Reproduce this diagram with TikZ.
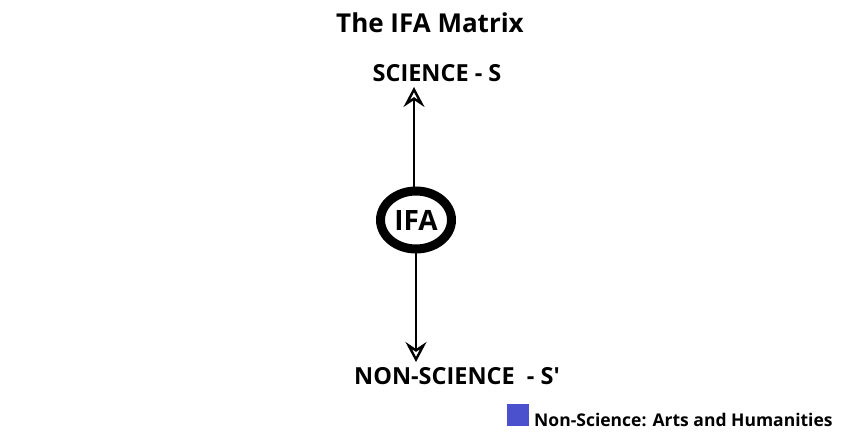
\documentclass[tikz,border=0pt]{standalone}
\usepackage{fontspec}
\setmainfont{Open Sans}
\usetikzlibrary{positioning, arrows.meta, shapes.geometric}

\definecolor{legendblue}{HTML}{4B50CC}

\tikzset{
    label text/.style={font=\bfseries\fontsize{23.5}{27}\selectfont, inner sep=0pt},
    axis arrow/.style={line width=2.6pt, -{Stealth[open, length=20pt, width=21pt, inset=7pt, line width=2.4pt]}},
}

\begin{document}
\begin{tikzpicture}[x=1pt, y=-1pt]
            \useasboundingbox (0,0) rectangle (862,439);

            % title
            \node[font=\bfseries\fontsize{26}{30}\selectfont, inner sep=0pt, anchor=base] (title) at (430,32) {The IFA Matrix};

            % the two poles
            \node[label text, anchor=base] (science) at (437,81) {SCIENCE - S};
            \node[label text, anchor=base west] (nonscience) at (354,384) {NON-SCIENCE\ \ - S\textquotesingle};

            \coordinate (uptip) at (414,87);
            \coordinate (downtip) at (416,362);

            % arrows out of the ellipse
            \draw[axis arrow] (414,222) -- (uptip);
            \draw[axis arrow] (416,222) -- (downtip);

            % IFA
            \node[ellipse, draw, line width=9pt, fill=white, inner sep=0pt,
                minimum width=71pt, minimum height=58pt,
                font=\bfseries\fontsize{28}{32}\selectfont] (ifa) at (416,220) {IFA};

            % legend
            \node[fill=legendblue, minimum size=22pt, inner sep=0pt] (legendbox) at (518,414.5) {};
            \node[font=\bfseries\fontsize{17.5}{20}\selectfont, inner sep=0pt, anchor=base west] (legendtext) at (534,426) {Non-Science: Arts and Humanities};
        \end{tikzpicture}
\end{document}
